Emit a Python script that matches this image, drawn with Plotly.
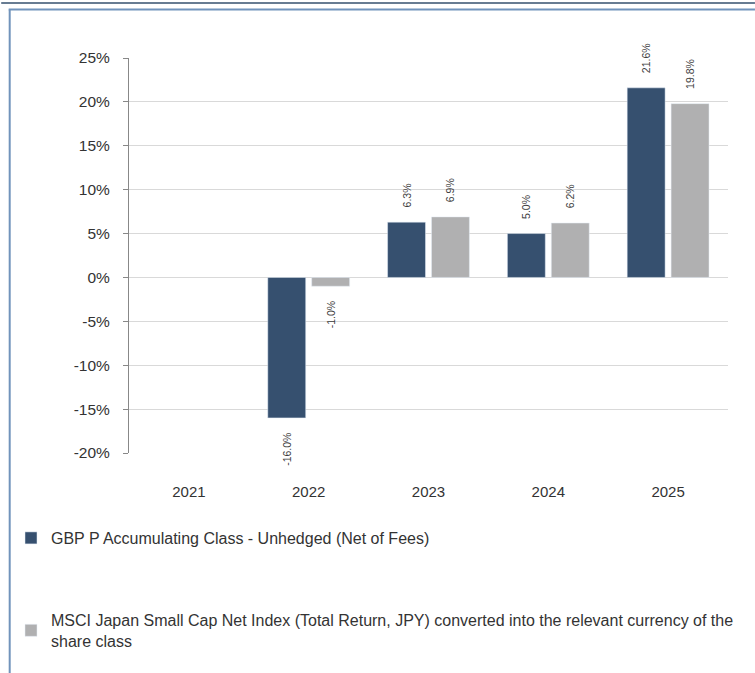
import plotly.graph_objects as go

years = ["2021", "2022", "2023", "2024", "2025"]
fund_name = "GBP P Accumulating Class - Unhedged (Net of Fees)"
index_name = ("MSCI Japan Small Cap Net Index (Total Return, JPY) converted into the relevant currency of the"
              "<br>share class")
fund_values = [None, -16.0, 6.3, 5.0, 21.6]
index_values = [None, -1.0, 6.9, 6.2, 19.8]
y_tickvals = [-20, -15, -10, -5, 0, 5, 10, 15, 20, 25]
y_ticktext = ["-20%", "-15%", "-10%", "-5%", "0%", "5%", "10%", "15%", "20%", "25%"]

FONT = "Liberation Sans, Arial, sans-serif"
DARK = "#36506f"
GREY = "#b0b0b1"
PAD = "\u00a0" * 4


def labels(vals):
    out = []
    for v in vals:
        if v is None:
            out.append("")
        elif v >= 0:
            out.append(PAD + f"{v:.1f}%")
        else:
            out.append(f"{v:.1f}%" + PAD)
    return out


fig = go.Figure()
fig.add_trace(go.Bar(
    x=years, y=fund_values, name=fund_name, marker_color=DARK,
    text=labels(fund_values), textposition="outside", textangle=-90,
    textfont=dict(family=FONT, size=10.5, color="#404040"),
    cliponaxis=False, constraintext="none", legend="legend",
))
fig.add_trace(go.Bar(
    x=years, y=index_values, name=index_name, marker_color=GREY,
    text=labels(index_values), textposition="outside", textangle=-90,
    textfont=dict(family=FONT, size=10.5, color="#404040"),
    cliponaxis=False, constraintext="none", legend="legend2",
))

L, R, T, B = 128, 27, 58, 220
W, H = 755, 673
pw, ph = W - L - R, H - T - B


def px_x(p):
    return (p - L) / pw


def px_y(p):
    return (H - B - p) / ph


fig.update_layout(
    width=W, height=H,
    margin=dict(l=L, r=R, t=T, b=B),
    paper_bgcolor="white", plot_bgcolor="white",
    font=dict(family=FONT, color="#333333"),
    barmode="group", bargap=0.267, bargroupgap=0.136,
    xaxis=dict(
        type="category", range=[-0.5, 4.5], showline=False, ticks="",
        showgrid=False, tickfont=dict(size=15, color="#333333"),
        ticklabelstandoff=28,
    ),
    xaxis2=dict(
        overlaying="x", anchor="free", position=20 / 45, range=[-0.5, 4.5],
        tickmode="array", tickvals=[-0.5, 0.5, 1.5, 2.5, 3.5, 4.5],
        ticks="outside", ticklen=4, tickcolor="#888888", showticklabels=False,
        showline=True, linecolor="#888888", linewidth=1.5, showgrid=False,
        zeroline=False,
    ),
    yaxis=dict(
        range=[-20, 25], tickmode="array", tickvals=y_tickvals, ticktext=y_ticktext,
        showgrid=True, gridcolor="#d9d9d9", gridwidth=1,
        zeroline=False, showline=True, linecolor="#888888", linewidth=1,
        ticks="outside", ticklen=5, tickcolor="#888888",
        tickfont=dict(size=15.5, color="#333333"), ticklabelstandoff=10,
    ),
    legend=dict(
        x=px_x(11), y=px_y(521), xanchor="left", yanchor="top",
        font=dict(size=16, color="#333333"), bgcolor="rgba(0,0,0,0)",
    ),
    legend2=dict(
        x=px_x(11), y=px_y(603), xanchor="left", yanchor="top",
        font=dict(size=16, color="#333333"), bgcolor="rgba(0,0,0,0)",
    ),
    showlegend=True,
    shapes=[
        dict(type="line", xref="paper", yref="paper",
             x0=px_x(0), x1=px_x(W), y0=px_y(3), y1=px_y(3),
             line=dict(color="#34506e", width=1.5)),
        dict(type="line", xref="paper", yref="paper",
             x0=px_x(7.5), x1=px_x(W), y0=px_y(9.5), y1=px_y(9.5),
             line=dict(color="#7193bb", width=2)),
        dict(type="line", xref="paper", yref="paper",
             x0=px_x(8.5), x1=px_x(8.5), y0=px_y(9.5), y1=px_y(H),
             line=dict(color="#7193bb", width=2)),
    ],
)

fig.write_html("out.html", config={"displayModeBar": False},
               post_script="document.body.style.margin='0';")
